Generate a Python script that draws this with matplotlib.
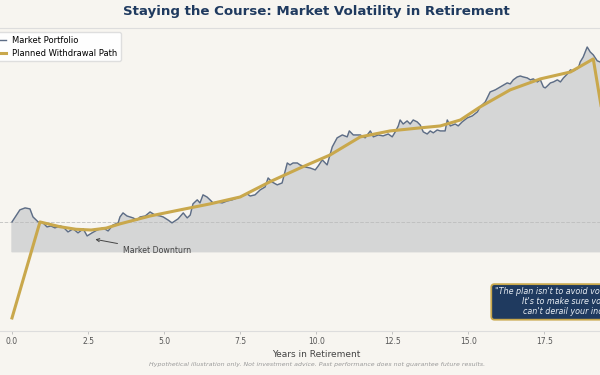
import matplotlib
matplotlib.use("Agg")
import matplotlib.pyplot as plt

# portfolio value ($K), start = 1000
port_years = [0.00, 0.13, 0.26, 0.43, 0.59, 0.69, 0.86, 0.99, 1.15, 1.28, 1.41, 1.58, 1.68, 1.84,
              2.01, 2.17, 2.34, 2.47, 2.63, 2.80, 2.99, 3.16, 3.32, 3.49, 3.55, 3.65, 3.78, 3.98,
              4.11, 4.21, 4.38, 4.54, 4.70, 4.87, 4.97, 5.13, 5.26, 5.46, 5.63, 5.76, 5.86, 5.95,
              6.09, 6.18, 6.28, 6.41, 6.51, 6.61, 6.74, 6.91, 7.07, 7.24, 7.40, 7.50, 7.73, 7.83,
              7.99, 8.16, 8.32, 8.42, 8.55, 8.72, 8.88, 9.05, 9.14, 9.24, 9.38, 9.47, 9.64, 9.80,
              9.97, 10.07, 10.20, 10.36, 10.53, 10.69, 10.86, 11.02, 11.09, 11.22, 11.45, 11.61,
              11.78, 11.88, 12.04, 12.20, 12.37, 12.50, 12.60, 12.70, 12.76, 12.86, 12.99, 13.09,
              13.19, 13.32, 13.42, 13.52, 13.65, 13.75, 13.85, 13.98, 14.08, 14.24, 14.31, 14.41,
              14.57, 14.67, 14.80, 14.97, 15.13, 15.30, 15.39, 15.56, 15.72, 15.89, 16.05, 16.22,
              16.28, 16.38, 16.48, 16.61, 16.71, 16.81, 16.94, 17.04, 17.14, 17.27, 17.37, 17.47,
              17.53, 17.60, 17.70, 17.80, 17.93, 18.03, 18.13, 18.26, 18.36, 18.45, 18.62, 18.68,
              18.78, 18.91, 19.01, 19.11, 19.24, 19.34, 19.50, 19.75, 20.00]
port_values = [1000, 1031, 1063, 1073, 1068, 1026, 1000, 1000, 974, 979, 969, 979, 974, 948,
               964, 943, 964, 927, 943, 958, 969, 953, 984, 995, 1026, 1047, 1031, 1021,
               1010, 1026, 1031, 1052, 1036, 1031, 1026, 1010, 995, 1016, 1047, 1021, 1036, 1094,
               1115, 1099, 1141, 1130, 1115, 1099, 1104, 1099, 1109, 1115, 1125, 1130, 1146, 1135,
               1141, 1167, 1182, 1229, 1208, 1193, 1203, 1307, 1297, 1307, 1307, 1297, 1286, 1281,
               1271, 1292, 1323, 1297, 1391, 1438, 1453, 1443, 1474, 1453, 1453, 1438,
               1474, 1443, 1453, 1448, 1458, 1443, 1469, 1500, 1531, 1510, 1526, 1510,
               1531, 1521, 1505, 1469, 1458, 1474, 1464, 1479, 1474, 1474, 1531, 1500,
               1510, 1500, 1521, 1542, 1552, 1573, 1599, 1625, 1677, 1688, 1703, 1719,
               1724, 1719, 1740, 1755, 1760, 1755, 1750, 1740, 1745, 1729, 1740, 1703,
               1698, 1708, 1724, 1729, 1740, 1729, 1750, 1771, 1792, 1786, 1802, 1833,
               1859, 1911, 1885, 1870, 1839, 1833, 1820, 1800, 1790]

# planned withdrawal path ($K)
path_years = [0.00, 0.92, 1.58, 2.10, 2.60, 3.10, 3.55, 4.54, 5.53, 6.51, 7.50, 8.49, 9.47,
              10.46, 11.45, 12.43, 13.42, 14.08, 14.74, 15.39, 16.38, 17.37, 18.36, 19.11, 20.00]
path_values = [500, 1000, 975, 962, 958, 968, 990, 1031, 1063, 1094, 1130, 1210, 1281,
               1349, 1443, 1474, 1490, 1500, 1531, 1599, 1688, 1745, 1781, 1849, 1000]

start_value = 1000
fill_floor = 845
x_ticks = [0.0, 2.5, 5.0, 7.5, 10.0, 12.5, 15.0, 17.5, 20.0]

bg = '#f7f5f0'
navy = '#1f3a5f'
gold = '#c9a84c'
slate = '#5d6d86'

fig = plt.figure(figsize=(6, 3.75), dpi=100, facecolor=bg)
ax = fig.add_axes([-0.0307, 0.1173, 1.1153, 0.808])
ax.set_facecolor(bg)

ax.fill_between(port_years, port_values, fill_floor, color='#d5d6d6', zorder=1)
ax.plot(port_years, port_values, color=slate, lw=1.0, label='Market Portfolio', zorder=3)
ax.plot(path_years, path_values, color=gold, lw=2.2, label='Planned Withdrawal Path', zorder=4)
ax.axhline(start_value, color='#bbbbbb', lw=0.7, ls='--', alpha=0.8, zorder=2)

ax.annotate('Market Downturn', xy=(2.65, 912), xytext=(4.77, 849),
            fontsize=5.7, color='#444444', ha='center', va='center',
            arrowprops=dict(arrowstyle='->', color='#444444', lw=0.7))

ax.text(0.963, 0.096,
        "\"The plan isn't to avoid volatility.\nIt's to make sure volatility\ncan't derail your income.\"",
        transform=ax.transAxes, ha='right', va='center', fontsize=5.8, style='italic',
        color='#e8edf3', linespacing=1.15,
        bbox=dict(boxstyle='round,pad=0.4', fc=navy, ec=gold, lw=1.3))

ax.set_xlim(-1, 21)
ax.set_ylim(432, 2010)
ax.set_xticks(x_ticks)
ax.set_xticklabels([f'{t:.1f}' for t in x_ticks])
ax.tick_params(axis='x', labelsize=5.5, colors='#555555', length=2, width=0.6, pad=2,
               color='#bbbbbb')
ax.tick_params(axis='y', left=False, labelleft=False)
for s in ax.spines.values():
    s.set_color('#dddddd')
    s.set_linewidth(0.8)

ax.set_xlabel('Years in Retirement', fontsize=6.5, color='#444444', labelpad=3)

leg = ax.legend(loc='upper left', fontsize=6, frameon=True, facecolor='white',
                edgecolor='#dddddd', framealpha=0.95)

fig.text(0.528, 0.968, 'Staying the Course: Market Volatility in Retirement',
         ha='center', va='center', fontsize=9.6, fontweight='bold', color=navy)
fig.text(0.528, 0.027,
         'Hypothetical illustration only. Not investment advice. Past performance does not guarantee future results.',
         ha='center', va='center', fontsize=4.5, style='italic', color='#999999')

fig.savefig('out.png', dpi=100, facecolor=bg)
